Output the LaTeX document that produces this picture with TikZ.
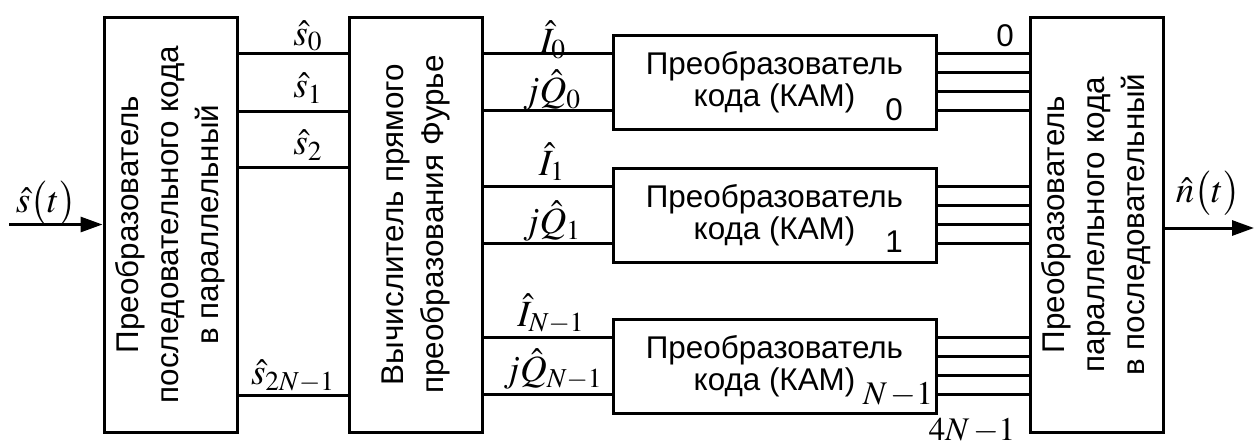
\documentclass[tikz,border=0pt]{standalone}
\usepackage{mathptmx}
\usepackage{fontspec}
\setmainfont{Liberation Sans}
\usetikzlibrary{arrows.meta}
\usetikzlibrary{positioning}
\usetikzlibrary{calc}
\newcommand{\blkfont}{\fontsize{15.7}{16}\selectfont}
\newcommand{\sigfont}{\fontsize{18.5}{21}\selectfont}

\begin{document}
\begin{tikzpicture}[x=0.5pt,y=-0.5pt,line width=1.5pt,
    tallbox/.style={draw,inner sep=0pt,minimum width=66.5pt,minimum height=207.5pt},
    kambox/.style={draw,inner sep=0pt,minimum width=161.5pt,minimum height=47pt,
      align=center,font=\blkfont},
    vtext/.style={rotate=90,align=center,
      font=\fontsize{15.7}{20}\selectfont},
    sig/.style={inner sep=0pt,font=\sigfont},
    idx/.style={inner sep=0pt,font=\fontsize{16.5}{18}\selectfont},
    num/.style={inner sep=0pt,font=\blkfont},
    arr/.style={-{Triangle[length=11pt,width=7.5pt]}}]
  \useasboundingbox (0,0) rectangle (1257,445);

  % big blocks
  \node[tallbox] (spp) at (170.5,224.5) {};
  \node[tallbox] (dft) at (415.5,224.5) {};
  \node[tallbox] (pps) at (1096.5,224.5) {};
  \node[vtext] at (spp) {Преобразователь\\последовательного кода\\в параллельный};
  \node[vtext] at (dft) {Вычислитель прямого\\преобразования Фурье};
  \node[vtext] at (pps) {Преобразователь\\параллельного кода\\в последовательный};

  % QAM coders
  \foreach \k/\y in {0/82,1/215,2/366}
    \node[kambox] (kam\k) at (774.5,\y) {Преобразователь\\кода (КАМ)};

  % connections
  \foreach \y in {53,111,167,395}
    \draw (spp.east |- 0,\y) -- (dft.west |- 0,\y);
  \foreach \k in {0,1,2} {
    \foreach \d in {-28.5,28.5}
      \draw (dft.east |- {$(kam\k.west)+(0,\d)$}) -- ($(kam\k.west)+(0,\d)$);
    \foreach \d in {-28.5,-9.5,9.5,28.5}
      \draw ($(kam\k.east)+(0,\d)$) -- (pps.west |- {$(kam\k.east)+(0,\d)$});
  }

  \coordinate (in) at (9,224.5);
  \coordinate (out) at (1254,228);
  \draw[arr] (in) -- (spp.west);
  \draw[arr] (pps.east |- out) -- (out);

  % labels
  \node[sig] (lin) at (46,203) {$\hat{s}\big(t\big)$};
  \node[sig] (lout) at (1208,193) {$\hat{n}\big(t\big)$};
  \node[sig] (ls0) at (308,36) {$\hat{s}_0$};
  \node[sig] (ls1) at (308,88) {$\hat{s}_1$};
  \node[sig] (ls2) at (308,145) {$\hat{s}_2$};
  \node[sig] (ls2n) at (293,376) {$\hat{s}_{2N-1}$};
  \node[sig] (lI0) at (553,40) {$\hat{I}_0$};
  \node[sig] (lQ0) at (552,90) {$j\hat{Q}_0$};
  \node[sig] (lI1) at (552,162) {$\hat{I}_1$};
  \node[sig] (lQ1) at (552,221) {$j\hat{Q}_1$};
  \node[sig] (lIn) at (551,314) {$\hat{I}_{N-1}$};
  \node[sig] (lQn) at (553,369) {$j\hat{Q}_{N-1}$};
  \node[num] (n0) at (1005,36) {0};
  \node[num] (k0) at (894,110) {0};
  \node[num] (k1) at (894,242) {1};
  \node[idx] (kn) at (898,395) {$N\,{-}1$};
  \node[idx] (n4) at (972,431) {$4N\,{-}1$};
\end{tikzpicture}
\end{document}
